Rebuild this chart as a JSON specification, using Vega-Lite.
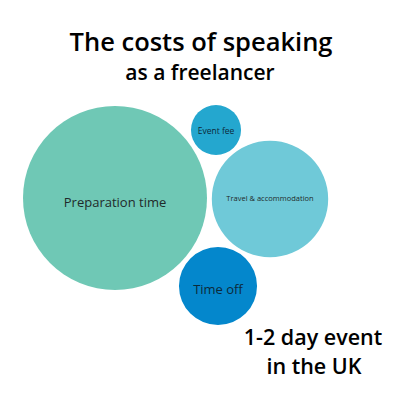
{
  "$schema": "https://vega.github.io/schema/vega-lite/v6.json",
  "width": 400,
  "height": 400,
  "autosize": {"type": "none"},
  "padding": 0,
  "background": "#ffffff",
  "config": {"view": {"stroke": null}},
  "datasets": {
    "costs": [
      {"category": "Preparation time", "cx": 115, "cy": 198, "cost": 100},
      {"category": "Event fee", "cx": 216, "cy": 130, "cost": 7.4},
      {"category": "Travel & accommodation", "cx": 270, "cy": 199, "cost": 40},
      {"category": "Time off", "cx": 218, "cy": 286, "cost": 18}
    ],
    "titles": [
      {"line": "The costs of speaking", "tx": 201, "ty": 51, "kind": "title"},
      {"line": "as a freelancer", "tx": 200, "ty": 80, "kind": "subtitle"},
      {"line": "1-2 day event", "tx": 313, "ty": 345, "kind": "note"},
      {"line": "in the UK", "tx": 314, "ty": 374, "kind": "note"}
    ]
  },
  "layer": [
    {
      "data": {"name": "costs"},
      "mark": {"type": "circle", "opacity": 1, "strokeWidth": 0},
      "encoding": {
        "x": {"field": "cx", "type": "quantitative", "scale": {"domain": [0, 400]}, "axis": null},
        "y": {"field": "cy", "type": "quantitative", "scale": {"domain": [400, 0]}, "axis": null},
        "size": {"field": "cost", "type": "quantitative", "scale": {"type": "linear", "domain": [0, 100], "range": [0, 33856]}, "legend": null},
        "color": {
          "field": "category", "type": "nominal", "legend": null,
          "scale": {
            "domain": ["Preparation time", "Event fee", "Travel & accommodation", "Time off"],
            "range": ["#6fc8b5", "#24a7cf", "#6fc9d8", "#0487cc"]
          }
        }
      }
    },
    {
      "data": {"name": "costs"},
      "transform": [{"filter": "datum.category === 'Preparation time'"}],
      "mark": {"type": "text", "font": "Open Sans", "fontSize": 13, "color": "#1f2a2a", "dy": 5},
      "encoding": {
        "x": {"field": "cx", "type": "quantitative"},
        "y": {"field": "cy", "type": "quantitative"},
        "text": {"field": "category"}
      }
    },
    {
      "data": {"name": "costs"},
      "transform": [{"filter": "datum.category === 'Time off'"}],
      "mark": {"type": "text", "font": "Open Sans", "fontSize": 13, "color": "#0d2a3a", "dy": 4},
      "encoding": {
        "x": {"field": "cx", "type": "quantitative"},
        "y": {"field": "cy", "type": "quantitative"},
        "text": {"field": "category"}
      }
    },
    {
      "data": {"name": "costs"},
      "transform": [{"filter": "datum.category === 'Event fee'"}],
      "mark": {"type": "text", "font": "Open Sans", "fontSize": 8.5, "color": "#0d2a3a", "dy": 1},
      "encoding": {
        "x": {"field": "cx", "type": "quantitative"},
        "y": {"field": "cy", "type": "quantitative"},
        "text": {"field": "category"}
      }
    },
    {
      "data": {"name": "costs"},
      "transform": [{"filter": "datum.category === 'Travel & accommodation'"}],
      "mark": {"type": "text", "font": "Open Sans", "fontSize": 7.5, "color": "#1f2a2a", "dy": 0},
      "encoding": {
        "x": {"field": "cx", "type": "quantitative"},
        "y": {"field": "cy", "type": "quantitative"},
        "text": {"field": "category"}
      }
    },
    {
      "data": {"name": "titles"},
      "transform": [{"filter": "datum.kind === 'title'"}],
      "mark": {"type": "text", "font": "Open Sans", "fontWeight": 600, "fontSize": 25.5, "color": "#000000", "baseline": "alphabetic"},
      "encoding": {
        "x": {"field": "tx", "type": "quantitative"},
        "y": {"field": "ty", "type": "quantitative"},
        "text": {"field": "line"}
      }
    },
    {
      "data": {"name": "titles"},
      "transform": [{"filter": "datum.kind === 'subtitle'"}],
      "mark": {"type": "text", "font": "Open Sans", "fontWeight": 600, "fontSize": 21, "color": "#000000", "baseline": "alphabetic"},
      "encoding": {
        "x": {"field": "tx", "type": "quantitative"},
        "y": {"field": "ty", "type": "quantitative"},
        "text": {"field": "line"}
      }
    },
    {
      "data": {"name": "titles"},
      "transform": [{"filter": "datum.kind === 'note'"}],
      "mark": {"type": "text", "font": "Open Sans", "fontWeight": 600, "fontSize": 21.5, "color": "#000000", "baseline": "alphabetic"},
      "encoding": {
        "x": {"field": "tx", "type": "quantitative"},
        "y": {"field": "ty", "type": "quantitative"},
        "text": {"field": "line"}
      }
    }
  ]
}
